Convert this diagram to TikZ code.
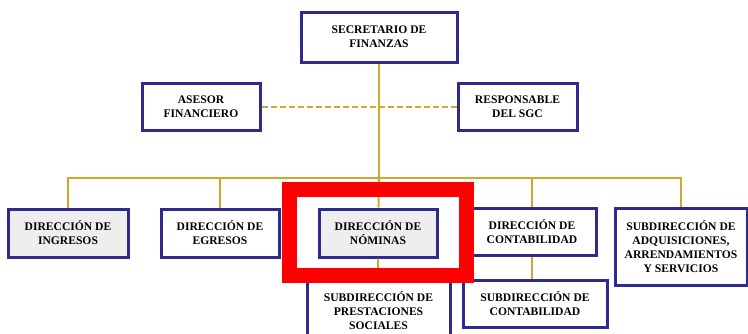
\documentclass[tikz,border=0pt]{standalone}
\usepackage{fontspec}
\setmainfont{Liberation Serif}
\usetikzlibrary{positioning}
\usetikzlibrary{calc}
\definecolor{azul}{HTML}{2E2A8E}
\definecolor{oro}{HTML}{D6A52C}
\definecolor{gris}{HTML}{EEEEEE}
\tikzset{
  area/.style={draw=azul,line width=3pt,fill=white,align=center,inner sep=2pt,
    font=\fontsize{11.6}{14}\selectfont\bfseries},
  liga/.style={draw=oro,line width=2pt},
}

\begin{document}
\begin{tikzpicture}[x=1pt,y=-1pt]
\useasboundingbox[fill=white] (0,0) rectangle (748,333);
\node[area,minimum width=156,minimum height=50](sec) at (379,37){SECRETARIO DE\\FINANZAS};
\node[area,minimum width=118,minimum height=47](asesor) at (201,106.5){ASESOR\\FINANCIERO};
\node[area,minimum width=119,minimum height=47](sgc) at (517.5,106.5){RESPONSABLE\\DEL SGC};
\coordinate(bus) at (379,178);
\node[area,fill=gris,minimum width=120,minimum height=48](ingresos) at (68,233){DIRECCIÓN DE\\INGRESOS};
\node[area,minimum width=118,minimum height=48](egresos) at (220,233){DIRECCIÓN DE\\EGRESOS};
\node[area,fill=gris,minimum width=118,minimum height=48](nominas) at (378,233){DIRECCIÓN DE\\NÓMINAS};
\node[area,minimum width=128,minimum height=47](contab) at (532,232){DIRECCIÓN DE\\CONTABILIDAD};
\node[area,minimum width=132,minimum height=77](adq) at (681,246.5){SUBDIRECCIÓN DE\\ADQUISICIONES,\\ARRENDAMIENTOS\\Y SERVICIOS};
\node[area,minimum width=143,minimum height=62](prest) at (378.5,311){SUBDIRECCIÓN DE\\PRESTACIONES\\SOCIALES};
\node[area,minimum width=144,minimum height=47](subcont) at (535,303.5){SUBDIRECCIÓN DE\\CONTABILIDAD};

\path
(sec) edge[liga] (bus)
(asesor) edge[liga,dash pattern=on 6pt off 3pt] (sgc)
(nominas) edge[liga] (prest)
(contab) edge[liga] (contab |- subcont.north);
\draw[liga] (ingresos) |- (bus) -| (adq);
\draw[liga] (bus) -| (egresos);
\draw[liga] (bus) -- (nominas);
\draw[liga] (bus) -| (contab);

% marca
\draw[red,line width=15pt] (289.5,189.5) rectangle (466,275.5);
\end{tikzpicture}
\end{document}
